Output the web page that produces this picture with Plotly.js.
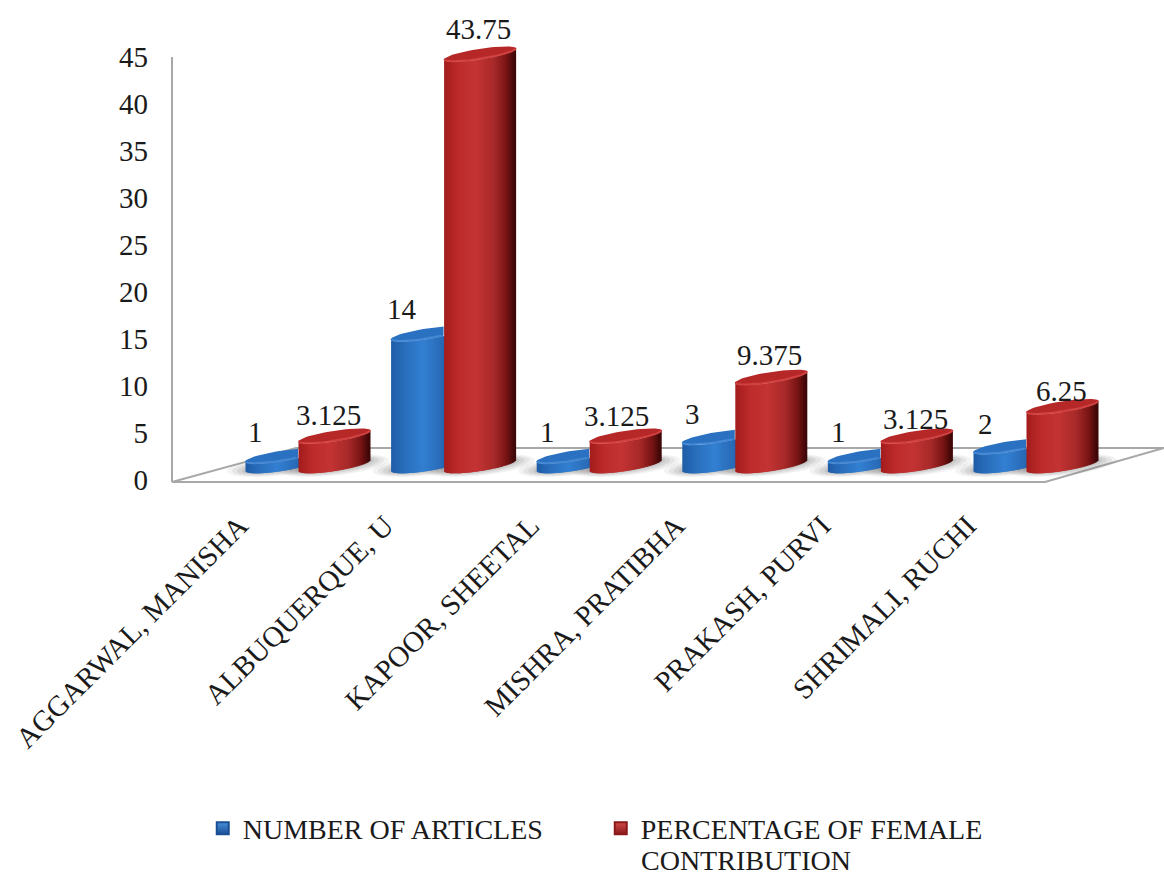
<!DOCTYPE html>
<html>
<head>
<meta charset="utf-8">
<script src="https://cdn.plot.ly/plotly-3.0.1.min.js"></script>
<style>html,body{margin:0;padding:0;background:#fff;overflow:hidden}</style>
</head>
<body>
<div id="chart" style="width:1164px;height:875px"></div>
<script>
// Articles per author and each author's share of female contribution
const authors = ["AGGARWAL, MANISHA","ALBUQUERQUE, U","KAPOOR, SHEETAL","MISHRA, PRATIBHA","PRAKASH, PURVI","SHRIMALI, RUCHI"];
const articles = [1, 14, 1, 3, 1, 2];
const percentage = [3.125, 43.75, 3.125, 9.375, 3.125, 6.25];
const articlesName = "NUMBER OF ARTICLES";
const percentageName = "PERCENTAGE OF FEMALE";
const percentageNameEnd = "CONTRIBUTION";
const axisTicks = [0, 5, 10, 15, 20, 25, 30, 35, 40, 45];

// Canvas and plot frame, in pixels; the frame runs above 45 so the tallest cylinder fits
const W = 1164, H = 875;
const plotLeft = 172, plotBottom = 482;
const pxPerUnit = 9.4;
const yRange = [-0.2, 50];
const plotTop = plotBottom - (yRange[1] - yRange[0]) * pxPerUnit;
const groupStart = 308, groupStep = 145.6;     // pixel x of the first group, spacing between groups
const xRange = [(plotLeft - groupStart) / groupStep, (W - groupStart) / groupStep];

// Cylinder geometry
const radiusPx = 36.5, tiltPx = 5.5, depthPx = 5.5;
const radius = radiusPx / groupStep;
const seriesOffset = 26.5 / groupStep;
const floorLevel = 1.55;                       // the cylinders stand this far above the axis zero
const stripCount = 72;
const stripWidthPx = 2.2;                      // strips overlap so the wall shades without seams

const blueStops = [[-1,"#1f5ca6"],[-0.6,"#2a6fbd"],[-0.1,"#3380d2"],[0.4,"#2a6cb8"],[1,"#184c8e"]];
const redStops  = [[-1,"#a31c1c"],[-0.6,"#bd2b2b"],[-0.1,"#c43434"],[0.4,"#a82a2a"],[0.75,"#7a1515"],[1,"#3c0707"]];

function hex(c){ return [1,3,5].map(i => parseInt(c.substr(i,2),16)); }
function shade(stops, u){
  for (let i = 1; i < stops.length; i++) {
    if (u <= stops[i][0]) {
      const f = (u - stops[i-1][0]) / (stops[i][0] - stops[i-1][0]);
      const a = hex(stops[i-1][1]), b = hex(stops[i][1]);
      return "rgb(" + a.map((v,k) => Math.round(v + (b[k]-v)*f)).join(",") + ")";
    }
  }
  return stops[stops.length-1][1];
}

// Curved wall of every cylinder: vertical strips whose height is the value itself
function bodyTrace(values, offset, stops, name){
  const x = [], y = [], base = [], color = [];
  const inset = (radiusPx - stripWidthPx / 2) / radiusPx;
  values.forEach((v, i) => {
    for (let k = 0; k < stripCount; k++) {
      const u = (k + 0.5) / stripCount * 2 - 1;
      x.push(i + offset + radius * u * inset);
      y.push(v);
      base.push(floorLevel + (tiltPx * u - depthPx * Math.sqrt(1 - u*u)) / pxPerUnit);
      color.push(shade(stops, u));
    }
  });
  return {type:"bar", name, x, y, base, width: stripWidthPx / groupStep,
          marker:{color, line:{width:0}}, cliponaxis:false, hoverinfo:"skip", showlegend:false};
}

// Top face of every cylinder; limitFn trims what the neighbouring cylinder hides
function capTrace(values, offset, fill, limitFn){
  const x = [], y = [];
  values.forEach((v, i) => {
    const lim = limitFn ? limitFn(i) : Infinity;
    for (let d = 0; d <= 360; d += 6) {
      const t = d * Math.PI / 180, c = Math.cos(t), s = Math.sin(t);
      x.push(Math.min(i + offset + radius * c, lim));
      y.push(floorLevel + v + (tiltPx * c + depthPx * s) / pxPerUnit);
    }
    x.push(null); y.push(null);
  });
  return {type:"scatter", mode:"lines", x, y, fill:"toself", fillcolor:fill, line:{width:0, color:fill},
          hoverinfo:"skip", showlegend:false};
}

// Lighter bevel along the front rim of each top face
function rimTrace(values, offset, color, limitFn){
  const x = [], y = [];
  values.forEach((v, i) => {
    const lim = limitFn ? limitFn(i) : Infinity;
    for (let d = 180; d <= 360; d += 6) {
      const t = d * Math.PI / 180, c = Math.cos(t), s = Math.sin(t);
      const xv = i + offset + radius * 0.97 * c;
      if (xv > lim) continue;
      x.push(xv);
      y.push(floorLevel + v + (tiltPx * c + (depthPx - 1) * s) / pxPerUnit);
    }
    x.push(null); y.push(null);
  });
  return {type:"scatter", mode:"lines", x, y, line:{width:2, color}, hoverinfo:"skip", showlegend:false};
}

const redLeft = i => i + seriesOffset - radius;

// Legend keys
function legendKey(name, color, dark){
  return {type:"scatter", mode:"markers", name, x:[null], y:[null],
          marker:{symbol:"square", size:15, color, gradient:{type:"vertical", color:dark}, line:{width:1, color:dark}}};
}

const traces = [
  bodyTrace(articles, -seriesOffset, blueStops, articlesName),
  bodyTrace(percentage, seriesOffset, redStops, percentageName),
  capTrace(articles, -seriesOffset, "#2b71c2", redLeft),
  rimTrace(articles, -seriesOffset, "rgba(90,155,225,0.55)", redLeft),
  capTrace(percentage, seriesOffset, "#b62828"),
  rimTrace(percentage, seriesOffset, "rgba(225,80,80,0.6)"),
  legendKey(articlesName, "#4a90dc", "#1b4f94"),
  legendKey(percentageName, "#d44a4a", "#8a1a1a")
];

// Floor of the chart and the wall line, behind the cylinders
const plotW = W - plotLeft, plotH = plotBottom - plotTop;
const fx = x => (x - plotLeft) / plotW, fy = y => (plotBottom - y) / plotH;
const frameColor = "#a8a8a8";
const shapes = [
  {type:"path", xref:"paper", yref:"paper", layer:"below",
   path:"M" + fx(172) + "," + fy(482) + " L" + fx(1045) + "," + fy(482) +
        " L" + fx(1164) + "," + fy(448) + " L" + fx(296) + "," + fy(448) + " Z",
   fillcolor:"#ffffff", line:{color:frameColor, width:2}},
  {type:"line", xref:"paper", yref:"y", layer:"below", x0:0, x1:0, y0:yRange[0], y1:45,
   line:{color:frameColor, width:2}}
];

// Soft contact shadows on the floor
[[18,0.07],[13,0.09],[8,0.11],[3,0.13]].forEach(([grow, alpha]) => {
  [[articles,-seriesOffset],[percentage,seriesOffset]].forEach(([vals, off]) => {
    vals.forEach((v, i) => {
      let p = "";
      for (let d = 0; d < 360; d += 10) {
        const t = d * Math.PI / 180, c = Math.cos(t), s = Math.sin(t);
        const xv = i + off + (radiusPx + grow) * c / groupStep;
        const yv = floorLevel + (tiltPx * c + (depthPx + grow * 0.25) * s) / pxPerUnit;
        p += (d ? " L" : "M") + xv + "," + yv;
      }
      shapes.push({type:"path", xref:"x", yref:"y", layer:"below", path:p + " Z",
                   fillcolor:"rgba(90,90,90," + alpha + ")", line:{width:0}});
    });
  });
});

// Value labels sit up and to the left of each cylinder top
const textFont = {family:"Liberation Serif, serif", size:29, color:"#1a1a1a"};
const legendFont = {family:"Liberation Serif, serif", size:28, color:"#1a1a1a"};
const annotations = [];
function addLabels(values, offset, dx, dy){
  values.forEach((v, i) => annotations.push({
    x: i + offset, y: floorLevel + v, xref:"x", yref:"y", text:String(v), showarrow:false,
    xshift: dx[i], yshift: dy[i], font:textFont
  }));
}
addLabels(articles, -seriesOffset, [-26,-25,-25,-26,-25,-24], [24,25,24,23,24,23]);
addLabels(percentage, seriesOffset, [-6,-2,-9,-2,-1,-1], [21,25,20,22,17,16]);

// Second line of the red legend entry, set tighter than the legend's own line height
annotations.push({xref:"paper", yref:"paper", x:fx(640), y:fy(860), xanchor:"left", yanchor:"middle",
                  text:percentageNameEnd, showarrow:false, font:legendFont, borderpad:0});

const layout = {
  width:W, height:H, paper_bgcolor:"#ffffff", plot_bgcolor:"rgba(0,0,0,0)",
  margin:{l:plotLeft, r:0, t:plotTop, b:H - plotBottom, pad:0, autoexpand:false},
  font:textFont, barmode:"overlay", hovermode:false, shapes, annotations,
  xaxis:{range:xRange, showgrid:false, zeroline:false, showline:false, ticks:"",
         tickmode:"array", tickvals:authors.map((_, i) => i - 0.47), ticktext:authors,
         tickangle:-45, ticklabelstandoff:20, tickfont:textFont, automargin:false},
  yaxis:{range:yRange, tickmode:"array", tickvals:axisTicks,
         showgrid:false, zeroline:false, showline:false,
         ticks:"", ticklabelstandoff:23, tickfont:textFont, automargin:false},
  legend:{orientation:"h", x:0.031, xanchor:"left", y:-0.681, yanchor:"top", bgcolor:"rgba(0,0,0,0)",
          font:legendFont, itemsizing:"constant", entrywidth:353, entrywidthmode:"pixels",
          valign:"middle", traceorder:"normal", itemwidth:30}
};

Plotly.newPlot("chart", traces, layout, {displayModeBar:false, staticPlot:true});
</script>
</body>
</html>
